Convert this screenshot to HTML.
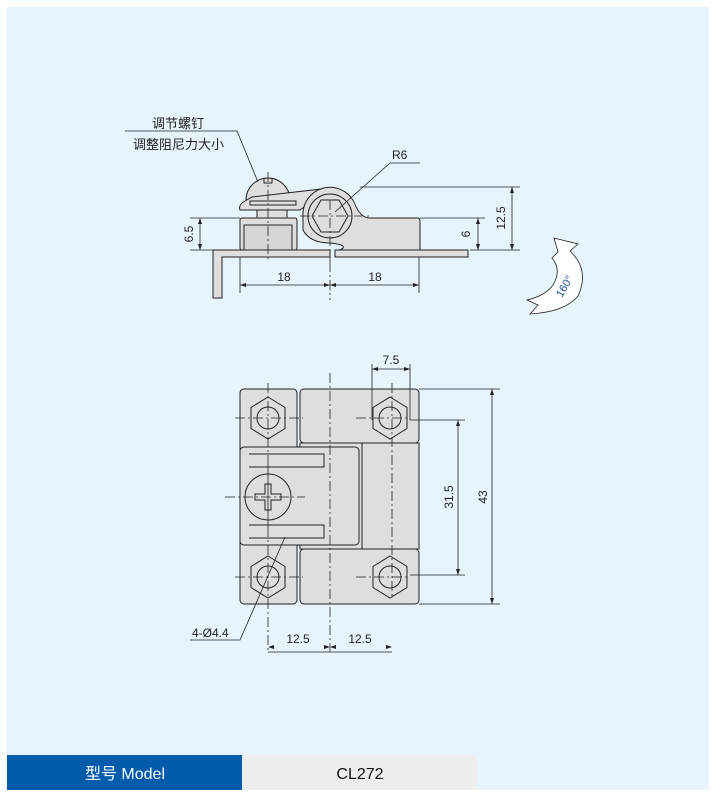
<!DOCTYPE html>
<html><head><meta charset="utf-8"><style>
body{margin:0;background:#fff;width:723px;height:799px;overflow:hidden}
svg{display:block}
text{font-family:"Liberation Sans","Noto Sans CJK SC",sans-serif}
</style></head><body>
<svg width="723" height="799" viewBox="0 0 723 799" xmlns="http://www.w3.org/2000/svg">
<defs>
<g id="h" stroke="#222" stroke-width="1" fill="#dedede">
<path d="M0,-21 L17,-10.5 V10.5 L0,21 L-17,10.5 V-10.5 Z"/>
<circle r="11"/>
</g>
</defs>
<rect x="7" y="7" width="702" height="783" fill="#e7f4fd"/>
<rect x="7" y="755" width="235" height="35" fill="#005bab"/>
<rect x="243" y="755" width="234" height="35" fill="#eeeeee"/>
<text x="125" y="779" font-size="16" fill="#fff" text-anchor="middle">型号 Model</text>
<text x="360" y="779" font-size="16" fill="#111" text-anchor="middle">CL272</text>

<g stroke="#222" stroke-width="1" fill="#dedede">
<path d="M213,298 V250 H330 V257 H222 V298 Z"/>
<rect x="335" y="250" width="133" height="7"/>
<rect x="257" y="205" width="30" height="13"/>
<path d="M246,200 A22,22 0 1 1 290,200 Z"/>
<path d="M264,178 v5 h8 v-5" fill="none"/>
<path d="M245,201 Q238,205 240,210 H300 L330,188 L252,197 Z"/>
<rect x="250" y="201" width="46" height="4"/>
<rect x="240" y="218" width="57" height="32" rx="2"/>
<rect x="244" y="225" width="48" height="25" fill="#d5d5d5"/>
<path d="M303,216 A27,27 0 0 1 354,202 Q360,218 370,218 H418 Q420,218 420,222 V250 H340 Q350,245 330,243 Q310,243 303,230 Z"/>
<circle cx="330" cy="216" r="22"/>
<path d="M312,216 L321,200 H339 L348,216 L339,232 H321 Z"/>
<rect x="240" y="389" width="57" height="215" rx="4"/>
<rect x="300" y="389" width="119" height="54" rx="4"/>
<rect x="300" y="549" width="119" height="55" rx="4"/>
<rect x="300" y="443" width="119" height="106"/>
<rect x="240" y="447" width="119" height="98" rx="4"/>
<line x1="362" y1="443" x2="362" y2="549"/>
<path d="M249,454 H324 V467 H249" fill="none"/>
<path d="M249,525 H324 V538 H249" fill="none"/>
<circle cx="268" cy="497" r="23"/>
<path d="M265,484 h6 v10 h10 v6 h-10 v10 h-6 v-10 h-10 v-6 h10 z"/>
</g>
<use href="#h" x="268" y="418"/><use href="#h" x="390" y="418"/>
<use href="#h" x="268" y="577"/><use href="#h" x="390" y="577"/>

<g stroke="#222" stroke-width="0.8" fill="none">
<path d="M268,172 V262 M330,200 V262 M330,262 V300 M330,373 V652 M268,383 V652 M392,383 V598 M235,418 H303 M235,577 H303 M356,418 H410 M356,577 H410 M225,497 H305 M268,463 V530 M300,216 H370" stroke-dasharray="10,3,2,3"/>
<path d="M190,218 H240 M190,250 H330 M200,218 V250"/>
<path d="M360,187 H520 M420,218 H485 M470,250 H520 M512,187 V250 M478,218 V250"/>
<path d="M240,257 V293 M419,257 V293 M240,285 H419"/>
<path d="M372,364 V420 M410,364 V420 M372,369 H410"/>
<path d="M410,420 H465 M410,575 H465 M458,420 V575"/>
<path d="M419,389 H500 M419,604 H500 M492,389 V604"/>
<path d="M268,652 H392"/>
<path d="M125,131 H237 L258,182"/>
<path d="M420,163 H390 L335,212"/>
<path d="M190,640 H240 L285,537"/>
</g>
<g fill="#222">
<path d="M200,218 l-2,6 h4z M200,250 l-2,-6 h4z M512,187 l-2,6 h4z M512,250 l-2,-6 h4z M478,218 l-2,6 h4z M478,250 l-2,-6 h4z"/>
<path d="M240,285 l6,-2 v4z M330,285 l-6,-2 v4z M330,285 l6,-2 v4z M419,285 l-6,-2 v4z"/>
<path d="M372,369 l6,-2 v4z M410,369 l-6,-2 v4z M458,420 l-2,6 h4z M458,575 l-2,-6 h4z M492,389 l-2,6 h4z M492,604 l-2,-6 h4z"/>
<path d="M268,647 l6,-2 v4z M330,647 l-6,-2 v4z M330,647 l6,-2 v4z M392,647 l-6,-2 v4z"/>
</g>
<g font-size="12" fill="#222">
<text x="152" y="128" font-size="13">调节螺钉</text>
<text x="133" y="149" font-size="13">调整阻尼力大小</text>
<text x="392" y="159">R6</text>
<text x="284" y="281" text-anchor="middle">18</text>
<text x="375" y="281" text-anchor="middle">18</text>
<text x="391" y="364" text-anchor="middle">7.5</text>
<text x="298" y="643" text-anchor="middle">12.5</text>
<text x="360" y="643" text-anchor="middle">12.5</text>
<text x="192" y="637">4-Ø4.4</text>
<text transform="translate(193,234) rotate(-90)" text-anchor="middle">6.5</text>
<text transform="translate(505,218) rotate(-90)" text-anchor="middle">12.5</text>
<text transform="translate(470,234) rotate(-90)" text-anchor="middle">6</text>
<text transform="translate(453,497) rotate(-90)" text-anchor="middle">31.5</text>
<text transform="translate(487,497) rotate(-90)" text-anchor="middle">43</text>
</g>
<path d="M554,238 L578,244 L570,251 Q590,270 578,296 Q565,312 530,314 L538,305 L527,300 Q545,296 553,285 Q562,270 552,258 L558,252 Z" fill="#fff" stroke="#222" stroke-width="0.8"/>
<text transform="translate(562,298) rotate(-60)" font-size="11" fill="#1a4f9c">160°</text>
</svg>
</body></html>
